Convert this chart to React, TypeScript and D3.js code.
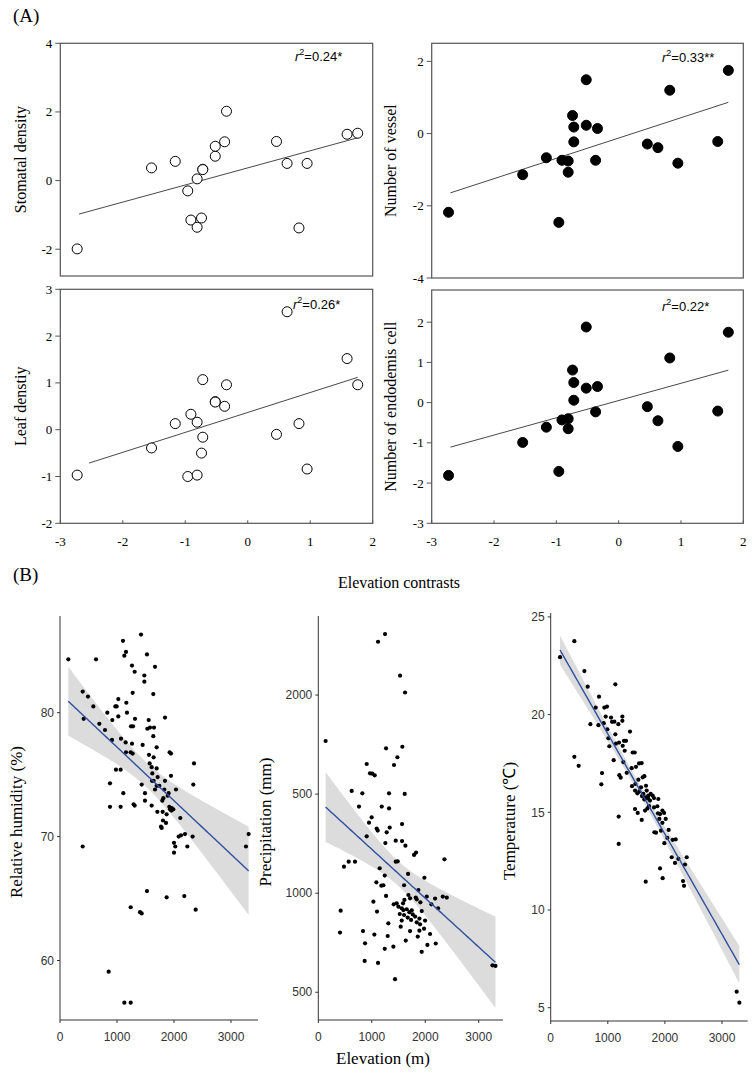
import * as d3 from 'd3'

// ---- panel A: phylogenetic contrasts vs elevation contrasts ----
const contrastX = [-2.73, -1.54, -1.16, -0.96, -0.91, -0.81, -0.81, -0.74, -0.72, -0.72, -0.52, -0.52, -0.37, -0.34, 0.46, 0.63, 0.82, 0.95, 1.59, 1.76]
const stomatalDensity = [-1.99, 0.37, 0.56, -0.3, -1.15, 0.05, -1.36, -1.09, 0.33, 0.32, 0.71, 1.0, 1.13, 2.02, 1.14, 0.5, -1.38, 0.5, 1.35, 1.38]
const vesselNumber = [-2.18, -1.14, -0.67, -2.46, -0.74, -0.76, -1.07, 0.5, 0.18, -0.23, 1.49, 0.23, -0.74, 0.14, -0.29, -0.39, 1.2, -0.82, -0.22, 1.75]
const leafDensity = [-0.97, -0.39, 0.13, -1.0, 0.33, 0.16, -0.97, -0.5, 1.07, -0.16, 0.6, 0.59, 0.5, 0.96, -0.1, 2.52, 0.13, -0.84, 1.52, 0.96]
const endodermisCell = [-1.81, -0.99, -0.61, -1.71, -0.43, -0.4, -0.65, 0.81, 0.5, 0.06, 1.88, 0.36, -0.23, 0.4, -0.1, -0.45, 1.11, -1.09, -0.21, 1.75]
const r2Labels = ['0.24*', '0.33**', '0.26*', '0.22*']
const fitFromA = [-2.7, -2.7, -2.54, -2.7]
const xTicksA = [-3, -2, -1, 0, 1, 2]

// ---- panel B: climate vs elevation ----
const humidity: [number, number][] = [[146,84.3],[398,81.7],[415,79.5],[491,81.3],[585,80.5],[632,84.3],[690,79.1],[790,78.6],[830,80.0],[877,74.3],[877,72.4],[912,77.8],[918,79.4],[971,80.5],[994,80.5],[982,75.4],[1023,81.1],[1023,79.7],[1064,75.4],[1064,72.4],[1070,77.9],[1111,73.5],[1105,85.8],[1129,84.6],[1158,84.9],[1164,80.8],[1175,80.0],[1158,76.8],[1152,77.6],[1263,77.5],[1246,78.9],[1281,78.9],[1263,83.8],[1275,81.6],[1310,83.3],[1316,79.5],[1292,72.6],[1310,72.5],[1421,86.3],[1526,84.7],[1667,83.7],[1480,83.0],[1480,82.5],[1637,81.5],[1842,79.6],[1556,79.4],[1532,78.7],[1579,78.8],[1649,78.8],[1637,78.1],[1696,77.2],[1450,77.4],[1924,76.8],[1275,76.7],[1240,76.8],[1561,76.6],[1643,76.4],[1947,76.7],[2351,75.9],[1573,75.9],[1608,75.6],[1620,75.1],[1696,75.5],[1643,74.5],[1713,74.8],[1614,74.5],[1667,73.8],[1696,74.1],[1433,74.2],[1947,74.9],[1743,74.1],[1830,73.8],[1842,74.5],[1889,73.3],[1906,73.5],[2035,73.8],[2339,74.2],[1491,73.5],[1813,73.1],[1918,72.4],[1795,72.9],[1930,72.2],[1959,72.3],[1871,71.8],[1491,72.9],[1608,72.5],[1708,72.0],[1772,70.8],[1784,70.7],[1807,71.3],[1860,71.1],[1801,72.0],[1953,72.1],[1988,72.2],[2111,71.5],[2193,70.2],[2123,70.1],[2082,70.0],[2000,69.5],[2023,69.2],[2000,68.7],[2234,69.2],[2327,70.0],[398,69.2],[1526,65.6],[1871,65.1],[2181,65.2],[2380,64.1],[1240,64.3],[1404,63.9],[1433,63.8],[854,59.1],[1129,56.6],[1240,56.6],[3263,69.2],[3310,70.2]]
const precipitation: [number, number][] = [[1117,2269],[1248,2308],[1529,2098],[1622,2013],[137,1768],[1572,1739],[1267,1731],[1479,1686],[1416,1647],[905,1652],[967,1605],[1011,1603],[1055,1595],[624,1516],[824,1504],[1323,1504],[1616,1501],[761,1437],[1186,1437],[1323,1428],[998,1383],[948,1356],[1566,1349],[1092,1326],[1279,1307],[1111,1316],[1335,1331],[905,1287],[1254,1253],[1448,1265],[1566,1263],[1629,1240],[1791,1193],[1828,1205],[2359,1171],[568,1159],[480,1134],[686,1159],[1448,1159],[1485,1161],[1148,1126],[1679,1097],[1984,1078],[1242,1089],[1086,1055],[1217,1040],[1179,1038],[1030,957],[1267,986],[1604,1040],[1822,978],[1872,1016],[1585,949],[1685,991],[1716,974],[1610,966],[1466,949],[1410,944],[1498,932],[1560,924],[1591,915],[1654,919],[1747,914],[1841,969],[1909,954],[2028,983],[2115,944],[2184,973],[2328,983],[2402,978],[2240,924],[1934,910],[1703,904],[1766,893],[1810,882],[1891,872],[1523,895],[1672,877],[1735,865],[1841,853],[1903,843],[1997,862],[1978,821],[1891,811],[1860,781],[2090,794],[1716,809],[1541,831],[1310,848],[1098,907],[418,912],[406,801],[836,809],[1048,791],[1298,784],[1404,730],[1635,761],[2040,739],[1934,704],[2196,746],[874,747],[1242,719],[867,658],[1117,648],[1435,566],[3257,636],[3313,633],[1604,890],[1560,862]]
const temperature: [number, number][] = [[163,22.94],[414,23.76],[590,22.23],[648,21.43],[1132,21.55],[846,20.92],[788,20.36],[695,19.51],[835,19.46],[940,20.36],[986,20.41],[963,19.9],[928,19.56],[1057,19.85],[1074,19.63],[1115,19.64],[1132,18.99],[1185,19.51],[1255,19.9],[1255,19.68],[992,19.25],[1010,18.79],[1027,18.38],[1144,18.52],[1197,18.57],[1284,18.66],[1319,18.66],[1261,18.4],[1296,18.15],[1389,19.13],[1436,18.06],[1471,18.06],[1103,17.67],[1272,17.57],[414,17.84],[490,17.38],[1418,17.26],[1494,17.33],[1547,17.5],[1594,17.52],[1331,17.02],[1202,16.9],[1226,16.77],[899,17.01],[887,16.43],[1424,16.34],[1483,16.45],[1535,16.67],[1611,16.79],[1640,16.85],[1582,16.28],[1669,16.36],[1553,16.07],[1623,15.94],[1477,16.11],[1518,15.97],[1681,16.11],[1710,15.85],[1751,15.94],[1786,15.85],[1704,15.71],[1658,15.77],[1599,15.83],[1640,15.66],[1809,15.73],[1885,15.68],[1739,15.6],[1477,15.17],[1524,14.97],[1594,14.61],[1652,15.09],[1693,15.2],[1722,15.32],[1809,15.25],[1868,15.31],[1879,14.95],[1915,14.91],[1956,15.09],[1985,14.97],[1903,14.66],[2014,14.66],[1932,14.06],[1956,14.46],[1815,13.98],[1844,13.96],[2066,14.1],[2043,13.69],[1990,13.42],[2136,13.59],[2189,13.61],[2119,12.7],[2177,12.41],[2236,12.62],[2382,12.7],[2352,12.33],[1915,12.13],[1961,11.63],[1664,11.45],[2317,11.48],[2335,11.24],[1191,14.78],[1191,13.38],[3257,5.82],[3304,5.26]]
const elevTicks = [0, 1000, 2000, 3000]
const humidityTicks = [60, 70, 80]
const precipTicks = [500, 1000, 1500, 2000]
const precipTickLabels = ['500', '1000', '500', '2000']
const tempTicks = [5, 10, 15, 20, 25]

const SERIF = "'Liberation Serif', 'Times New Roman', serif"
const SANS = "'Liberation Sans', Arial, sans-serif"

function linearFit(xs: number[], ys: number[]) {
  const n = xs.length
  const mx = d3.mean(xs)!, my = d3.mean(ys)!
  const sxx = d3.sum(xs, x => (x - mx) ** 2)
  const sxy = d3.sum(xs.map((x, i) => (x - mx) * (ys[i] - my)))
  const slope = sxy / sxx
  const intercept = my - slope * mx
  const sse = d3.sum(xs.map((x, i) => (ys[i] - intercept - slope * x) ** 2))
  const s = Math.sqrt(sse / (n - 2))
  return {
    predict: (x: number) => intercept + slope * x,
    se: (x: number) => s * Math.sqrt(1 / n + (x - mx) ** 2 / sxx),
  }
}

interface ContrastProps {
  left: number; right: number; top: number; bottom: number
  yDomain: [number, number]; yTicks: number[]; values: number[]
  filled: boolean; title: string; r2: string; r2x: number; r2y: number
  fitFrom: number; showX: boolean; titleX: number
}

const ContrastPlot = (p: ContrastProps) => {
  const x = d3.scaleLinear().domain([-3, 2]).range([p.left, p.right])
  const y = d3.scaleLinear().domain(p.yDomain).range([p.bottom, p.top])
  const fit = linearFit(contrastX, p.values)
  const x1 = d3.max(contrastX)!
  return (
    <g>
      <rect x={p.left} y={p.top} width={p.right - p.left} height={p.bottom - p.top} fill='none' stroke='#555' strokeWidth={1.2} />
      {p.yTicks.map(t => (
        <g key={t}>
          <line x1={p.left - 5} x2={p.left} y1={y(t)} y2={y(t)} stroke='#555' />
          <text x={p.left - 8} y={y(t)} dy='0.35em' textAnchor='end' fontSize={13} fontFamily={SERIF}>{t}</text>
        </g>
      ))}
      {p.showX && xTicksA.map(t => (
        <g key={t}>
          <line x1={x(t)} x2={x(t)} y1={p.bottom} y2={p.bottom - 3} stroke='#555' />
          <text x={x(t)} y={p.bottom + 18} dy='0.35em' textAnchor='middle' fontSize={13} fontFamily={SERIF}>{t}</text>
        </g>
      ))}
      <line x1={x(p.fitFrom)} x2={x(x1)} y1={y(fit.predict(p.fitFrom))} y2={y(fit.predict(x1))} stroke='#333' strokeWidth={0.9} />
      {contrastX.map((v, i) => (
        <circle key={i} cx={x(v)} cy={y(p.values[i])} r={5} fill={p.filled ? '#000' : '#fff'} stroke='#000' strokeWidth={1} />
      ))}
      <text x={p.r2x} y={p.r2y} fontSize={13} fontFamily={SANS}>
        <tspan fontStyle='italic'>r</tspan><tspan dy={-6} fontSize={9}>2</tspan><tspan dy={6}>={p.r2}</tspan>
      </text>
      <text transform={`translate(${p.titleX},${(p.top + p.bottom) / 2}) rotate(-90)`} textAnchor='middle' dy='0.35em' fontSize={16} fontFamily={SERIF}>{p.title}</text>
    </g>
  )
}

interface ClimateProps {
  axisX: number; axisEnd: number; xMax: number; top: number; bottom: number
  yDomain: [number, number]; yTicks: number[]; yLabels: string[]; data: [number, number][]
  title: string; titleX: number
}

const ClimatePlot = (p: ClimateProps) => {
  const x = d3.scaleLinear().domain([0, p.xMax]).range([p.axisX, p.axisEnd])
  const y = d3.scaleLinear().domain(p.yDomain).range([p.bottom, p.top])
  const xs = p.data.map(d => d[0])
  const ys = p.data.map(d => d[1])
  const fit = linearFit(xs, ys)
  const [lo, hi] = d3.extent(xs) as [number, number]
  const grid = d3.range(lo, hi, (hi - lo) / 80).concat([hi])
  const t = 1.98
  const band = d3.area<number>()
    .x(v => x(v))
    .y0(v => y(fit.predict(v) - t * fit.se(v)))
    .y1(v => y(fit.predict(v) + t * fit.se(v)))
  const line = d3.line<number>().x(v => x(v)).y(v => y(fit.predict(v)))
  return (
    <g>
      <path d={band(grid) ?? ''} fill='#d6d6d6' opacity={0.85} />
      <line x1={p.axisX} x2={p.axisX} y1={p.top} y2={p.bottom} stroke='#333' />
      <line x1={p.axisX} x2={p.axisEnd} y1={p.bottom} y2={p.bottom} stroke='#333' />
      {p.yTicks.map((v, i) => (
        <g key={v}>
          <line x1={p.axisX - 3} x2={p.axisX} y1={y(v)} y2={y(v)} stroke='#333' />
          <text x={p.axisX - 6} y={y(v)} dy='0.35em' textAnchor='end' fontSize={12} fill='#333' fontFamily={SANS}>{p.yLabels[i]}</text>
        </g>
      ))}
      {elevTicks.map(v => (
        <g key={v}>
          <line x1={x(v)} x2={x(v)} y1={p.bottom} y2={p.bottom + 3} stroke='#333' />
          <text x={x(v)} y={p.bottom + 17} dy='0.35em' textAnchor='middle' fontSize={12} fill='#333' fontFamily={SANS}>{v}</text>
        </g>
      ))}
      {p.data.map((d, i) => (
        <circle key={i} cx={x(d[0])} cy={y(d[1])} r={2.1} fill='#000' />
      ))}
      <path d={line(grid) ?? ''} fill='none' stroke='#2f4f9f' strokeWidth={1.4} />
      <text transform={`translate(${p.titleX},${(p.top + p.bottom) / 2 + 4}) rotate(-90)`} textAnchor='middle' dy='0.35em' fontSize={17} fontFamily={SERIF}>{p.title}</text>
    </g>
  )
}

export default function App() {
  return (
    <svg width={752} height={1091} style={{ position: 'absolute', left: 0, top: 0, background: '#fff' }}>
      <text x={13} y={22} fontSize={19} fontFamily={SERIF}>(A)</text>
      <ContrastPlot left={60.3} right={372.7} top={43.3} bottom={276} yDomain={[-2.78, 4]} yTicks={[-2, 0, 2, 4]}
        values={stomatalDensity} filled={false} title='Stomatal density' r2={r2Labels[0]} r2x={295} r2y={61}
        fitFrom={fitFromA[0]} showX={false} titleX={20} />
      <ContrastPlot left={431.7} right={743.3} top={43.3} bottom={278} yDomain={[-4, 2.5]} yTicks={[-4, -2, 0, 2]}
        values={vesselNumber} filled={true} title='Number of vessel' r2={r2Labels[1]} r2x={662} r2y={62}
        fitFrom={fitFromA[1]} showX={false} titleX={390} />
      <ContrastPlot left={60.3} right={372.7} top={289.3} bottom={523.3} yDomain={[-2, 3]} yTicks={[-2, -1, 0, 1, 2, 3]}
        values={leafDensity} filled={false} title='Leaf denstiy' r2={r2Labels[2]} r2x={293} r2y={309}
        fitFrom={fitFromA[2]} showX={true} titleX={20} />
      <ContrastPlot left={431.7} right={743.3} top={290} bottom={523.3} yDomain={[-3, 2.8]} yTicks={[-3, -2, -1, 0, 1, 2]}
        values={endodermisCell} filled={true} title='Number of endodemis cell' r2={r2Labels[3]} r2x={662} r2y={311}
        fitFrom={fitFromA[3]} showX={true} titleX={390} />
      <text x={399} y={582} dy='0.35em' textAnchor='middle' fontSize={16} fontFamily={SERIF}>Elevation contrasts</text>

      <text x={13} y={581} fontSize={19} fontFamily={SERIF}>(B)</text>
      <ClimatePlot axisX={60} axisEnd={258} xMax={3474} top={616} bottom={1020} yDomain={[55.2, 87.8]}
        yTicks={humidityTicks} yLabels={humidityTicks.map(String)} data={humidity} title='Relative humidity (%)' titleX={16} />
      <ClimatePlot axisX={318.3} axisEnd={503} xMax={3454} top={616} bottom={1020} yDomain={[360, 2399]}
        yTicks={precipTicks} yLabels={precipTickLabels} data={precipitation} title='Precipitation (mm)' titleX={265} />
      <ClimatePlot axisX={550.7} axisEnd={747.7} xMax={3450} top={613} bottom={1021} yDomain={[4.32, 25.2]}
        yTicks={tempTicks} yLabels={tempTicks.map(String)} data={temperature} title='Temperature (℃)' titleX={509} />
      <text x={383} y={1058} dy='0.35em' textAnchor='middle' fontSize={17} fontFamily={SERIF}>Elevation (m)</text>
    </svg>
  )
}
